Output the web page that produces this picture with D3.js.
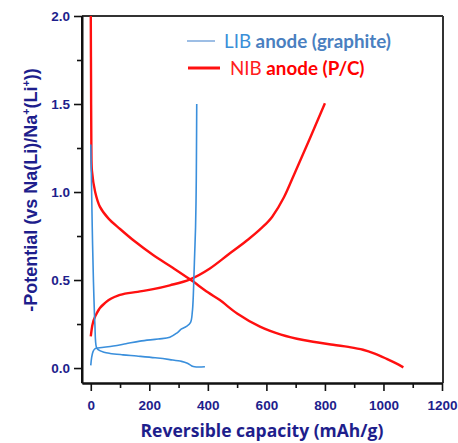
<!DOCTYPE html>
<html><head><meta charset="utf-8">
<script src="https://cdn.jsdelivr.net/npm/d3@7"></script>
<style>body{margin:0;background:#fff}svg{display:block}</style>
</head><body>
<svg id="chart" width="458" height="443"></svg>
<script>
const xTicks = [0, 200, 400, 600, 800, 1000, 1200];
const xMinor = [100, 300, 500, 700, 900, 1100];
const yTicks = [0.0, 0.5, 1.0, 1.5, 2.0];
const yMinor = [0.25, 0.75, 1.25, 1.75];
const libDischarge = [[0,1.27],[2,1.1],[5,0.8],[9,0.5],[14,0.25],[19,0.12],[25,0.105],[45,0.09],[66,0.083],[110,0.075],[157,0.068],[220,0.058],[270,0.048],[310,0.038],[330,0.027],[345,0.012],[355,0.007],[390,0.007]];
const libCharge = [[0,0.015],[3,0.06],[8,0.095],[15,0.11],[30,0.115],[77,0.125],[120,0.138],[168,0.153],[230,0.165],[270,0.175],[295,0.2],[310,0.222],[327,0.237],[341,0.26],[347,0.32],[350,0.4],[352,0.5],[355,0.65],[358,0.8],[360,1.0],[361,1.2],[362,1.5]];
const nibDischarge = [[0,2.0],[1,1.6],[2,1.25],[4,1.12],[15,1.0],[31,0.917],[60,0.85],[100,0.79],[150,0.72],[213,0.642],[280,0.57],[339,0.504],[400,0.43],[441,0.386],[500,0.31],[578,0.235],[650,0.19],[726,0.159],[828,0.132],[880,0.12],[930,0.104],[970,0.082],[1011,0.052],[1040,0.029],[1068,0.004]];
const nibCharge = [[0,0.18],[5,0.24],[20,0.31],[54,0.377],[100,0.415],[160,0.433],[213,0.448],[270,0.47],[339,0.504],[407,0.566],[470,0.645],[530,0.72],[580,0.79],[620,0.86],[660,0.97],[700,1.12],[750,1.31],[800,1.504]];
const legendItems = [
  {short:"LIB", rest:"anode (graphite)", key:"lib"},
  {short:"NIB", rest:"anode (P/C)", key:"nib"}
];
const xTitle = "Reversible capacity (mAh/g)";

const navy = "#1e1e8c";
const blue = "#3a8fdc", red = "#ff1010";
const svg = d3.select("#chart");
const L = 82, R = 443, T = 16, B = 383;
const x = d3.scaleLinear().domain([-30, 1200]).range([L, 442]);
const y = d3.scaleLinear().domain([-0.085, 2.0]).range([B, T]);

// frame
svg.append("line").attr("x1", L).attr("x2", R).attr("y1", T).attr("y2", T).attr("stroke", "#333").attr("stroke-width", 2);
svg.append("line").attr("x1", R).attr("x2", R).attr("y1", T).attr("y2", B).attr("stroke", "#333").attr("stroke-width", 2);

const xAxis = svg.append("g").attr("transform", `translate(0,${B})`)
  .call(d3.axisBottom(x).tickValues(xTicks).tickFormat(d3.format("d")).tickSize(8).tickSizeOuter(0));
const xAxisMinor = svg.append("g").attr("transform", `translate(0,${B})`)
  .call(d3.axisBottom(x).tickValues(xMinor).tickFormat("").tickSize(5).tickSizeOuter(0));
const yAxis = svg.append("g").attr("transform", `translate(${L},0)`)
  .call(d3.axisLeft(y).tickValues(yTicks).tickFormat(d3.format(".1f")).tickSize(8).tickSizeOuter(0));
const yAxisMinor = svg.append("g").attr("transform", `translate(${L},0)`)
  .call(d3.axisLeft(y).tickValues(yMinor).tickFormat("").tickSize(5).tickSizeOuter(0));
[xAxis, xAxisMinor, yAxis, yAxisMinor].forEach(g => {
  g.select(".domain").attr("stroke", "#111").attr("stroke-width", 2);
  g.selectAll(".tick line").attr("stroke", "#111").attr("stroke-width", 1.6);
  g.selectAll("text").attr("fill", navy).attr("font-family", "Liberation Sans, Arial, sans-serif")
    .attr("font-weight", "bold").attr("font-size", 13.5);
});
xAxis.selectAll("text").attr("dy", "1.15em");
yAxis.selectAll("text").attr("x", -12).attr("dy", "0.35em");
yAxis.select(".domain").attr("d", `M0,${T}V${B}`);

const lineC = d3.line().x(d => x(d[0])).y(d => y(d[1])).curve(d3.curveCatmullRom.alpha(0.5));
const lineM = d3.line().x(d => x(d[0])).y(d => y(d[1])).curve(d3.curveMonotoneX);
const plot = svg.append("g");
plot.append("path").datum(nibDischarge).attr("d", lineC).attr("fill", "none").attr("stroke", red).attr("stroke-width", 2.4);
plot.append("path").datum(nibCharge).attr("d", lineM).attr("fill", "none").attr("stroke", red).attr("stroke-width", 2.4);
plot.append("path").datum(libDischarge).attr("d", lineC).attr("fill", "none").attr("stroke", blue).attr("stroke-width", 1.6);
plot.append("path").datum(libCharge).attr("d", lineC).attr("fill", "none").attr("stroke", blue).attr("stroke-width", 1.6);

// legend
const lg = svg.append("g").attr("font-family", "Lato, 'Open Sans', sans-serif").attr("font-size", 18.8);
legendItems.forEach((it, i) => {
  const yy = i === 0 ? 41 : 68;
  const isLib = it.key === "lib";
  lg.append("line").attr("x1", isLib ? 187 : 188).attr("x2", isLib ? 215 : 220).attr("y1", yy).attr("y2", yy)
    .attr("stroke", isLib ? "#5b93d3" : red).attr("stroke-width", isLib ? 1.2 : 3);
  const t = lg.append("text").attr("x", isLib ? 224 : 230).attr("y", yy + 7);
  t.append("tspan").text(it.short).attr("fill", isLib ? "#3b8fd8" : "#ff2020");
  t.append("tspan").text(" " + it.rest).attr("font-weight", "bold").attr("fill", isLib ? "#4a7fc0" : "#ff0000");
});

// axis titles
svg.append("text").attr("x", 262).attr("y", 437).attr("text-anchor", "middle")
  .attr("font-family", "'Open Sans', 'Noto Sans', sans-serif").attr("font-weight", "bold").attr("font-size", 17.5)
  .attr("fill", navy).text(xTitle);
const yt = svg.append("text").attr("transform", "translate(37,190) rotate(-90)").attr("text-anchor", "middle")
  .attr("font-family", "Liberation Sans, Arial, sans-serif").attr("font-weight", "bold").attr("font-size", 18)
  .attr("fill", navy);
yt.append("tspan").text("-Potential (vs Na(Li)/Na");
yt.append("tspan").text("+").attr("font-size", 10.5).attr("dy", -7);
yt.append("tspan").text("(Li").attr("dy", 7);
yt.append("tspan").text("+").attr("font-size", 10.5).attr("dy", -7);
yt.append("tspan").text("))").attr("dy", 7);
</script>
</body></html>
